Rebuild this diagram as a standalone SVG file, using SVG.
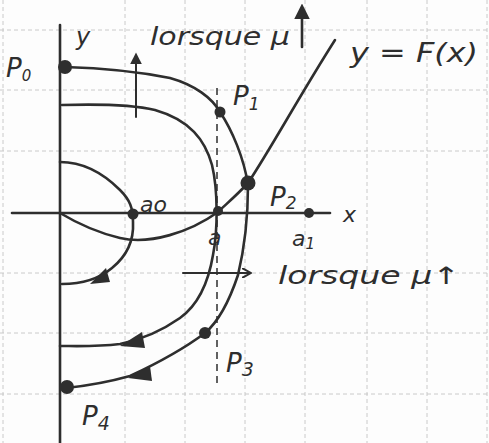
<svg xmlns="http://www.w3.org/2000/svg" width="489" height="443" viewBox="0 0 489 443">
<style>
.grid{stroke:#c4c4c4;stroke-width:0.9;stroke-dasharray:4 3;fill:none}
.ink{stroke:#2e2e2e;stroke-width:2.6;fill:none;stroke-linecap:round;stroke-linejoin:round}
.thin{stroke:#2e2e2e;stroke-width:2;fill:none;stroke-linecap:round}
.dash{stroke:#2e2e2e;stroke-width:1.5;fill:none;stroke-dasharray:7 5}
.dot{fill:#2e2e2e}
.t{font-family:"DejaVu Sans",sans-serif;font-style:italic;fill:#2e2e2e}
</style>
<defs>
<marker id="ah" viewBox="0 0 10 10" refX="2" refY="5" markerWidth="6" markerHeight="6" orient="auto-start-reverse">
<path d="M0,0 L10,5 L0,10 Z" fill="#2e2e2e"/>
</marker>
<marker id="open" viewBox="0 0 10 10" refX="8" refY="5" markerWidth="5" markerHeight="5" orient="auto">
<path d="M0,0 L9,5 L0,10" fill="none" stroke="#2e2e2e" stroke-width="2"/>
</marker>
</defs>
<rect width="489" height="443" fill="#fdfdfd"/>
<g id="grid">
<path class="grid" d="M0,30H489M0,90H489M0,151H489M0,273H489M0,333H489M0,394H489"/>
<path class="grid" d="M3,0V443M125,0V443M185,0V443M245,0V443M305,0V443M367,0V443M427,0V443M487,0V443"/>
</g>
<g id="axes">
<path class="ink" d="M60,25V443"/>
<path class="ink" d="M12,213H330"/>
<text class="t" x="343" y="222" font-size="22">x</text>
<text class="t" x="76" y="45" font-size="24">y</text>
</g>
<g id="connectors">
<path class="ink" d="M335,40C300,95 270,150 248,183C235,197 225,205 218,212C190,232 150,245 120,238C95,232 75,222 60,213"/>
<path class="ink" d="M65,67C100,68 140,72 170,78C195,85 212,98 220,112C232,130 244,158 248,185C248,220 244,250 238,275C228,305 218,322 205,333C185,348 160,362 130,376C105,383 85,386 66,388"/>
<path class="ink" d="M62,105C95,104 130,104 155,110C190,120 205,140 212,165C218,190 218,230 213,255C208,285 198,305 180,318C160,332 140,340 120,344C95,347 75,346 60,346"/>
<path class="ink" d="M60,162C85,162 105,175 120,190C130,200 133,208 133,222C134,240 128,255 112,268C100,278 85,284 62,284"/>
<path d="M142,332 L120,346 L145,348 Z" class="dot"/>
<path d="M150,366 L128,378 L152,381 Z" class="dot"/>
<path d="M106,268 L90,284 L110,282 Z" class="dot"/>
<path class="dash" d="M217,88V385"/>
<path class="thin" d="M136,117V62" marker-end="url(#ah)"/>
<path class="thin" d="M183,273H250" marker-end="url(#open)"/>
</g>
<g id="P0"><circle class="dot" cx="65" cy="67" r="7"/><text class="t" x="6" y="77" font-size="26">P<tspan font-size="15" dy="4">0</tspan></text></g>
<g id="P1"><circle class="dot" cx="220" cy="112" r="5.5"/><text class="t" x="233" y="105" font-size="26">P<tspan font-size="17" dy="5">1</tspan></text></g>
<g id="P2"><circle class="dot" cx="248" cy="183" r="7.5"/><text class="t" x="270" y="206" font-size="26">P<tspan font-size="17" dy="3">2</tspan></text></g>
<g id="P3"><circle class="dot" cx="205" cy="333" r="6"/><text class="t" x="226" y="372" font-size="26">P<tspan font-size="19" dy="4">3</tspan></text></g>
<g id="P4"><circle class="dot" cx="67" cy="387" r="7"/><text class="t" x="82" y="425" font-size="26">P<tspan font-size="19" dy="5">4</tspan></text></g>
<g id="a0"><circle class="dot" cx="133" cy="214" r="5.5"/><text class="t" x="140" y="212" font-size="22">ao</text></g>
<g id="a"><circle class="dot" cx="218" cy="211" r="5"/><text class="t" x="208" y="245" font-size="22">a</text></g>
<g id="a1"><circle class="dot" cx="309" cy="213" r="5"/><text class="t" x="292" y="246" font-size="22">a<tspan font-size="15" dy="3">1</tspan></text></g>
<g id="labels">
<text class="t" x="150" y="45" font-size="24" textLength="140" lengthAdjust="spacingAndGlyphs">lorsque μ</text>
<path class="ink" d="M302,47V16" marker-end="url(#ah)"/>
<text class="t" x="350" y="62" font-size="26" textLength="128" lengthAdjust="spacingAndGlyphs">y = F(x)</text>
<text class="t" x="278" y="284" font-size="24" textLength="182" lengthAdjust="spacingAndGlyphs">lorsque μ↑</text>
</g>
</svg>
